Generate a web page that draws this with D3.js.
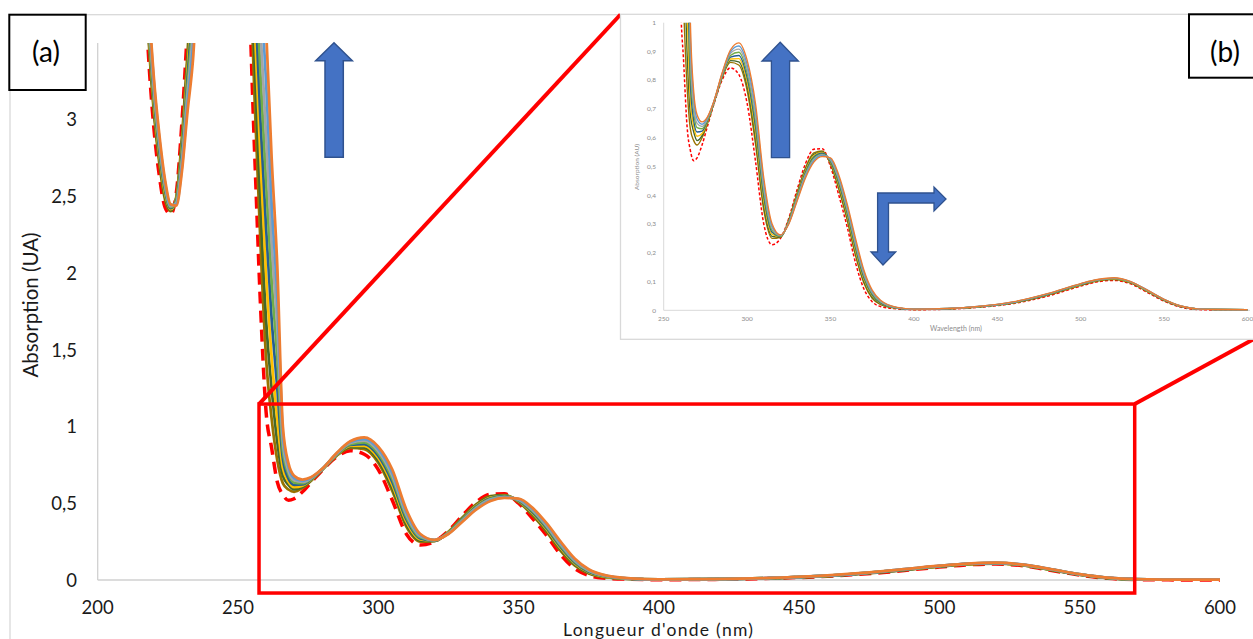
<!DOCTYPE html>
<html><head><meta charset="utf-8">
<script src="https://cdn.jsdelivr.net/npm/d3@7"></script>
<style>body{margin:0;background:#fff;overflow:hidden}svg{display:block}</style>
</head><body>
<svg id="c" width="1253" height="639"></svg>
<script>
// ---------- DATA ----------
const wavelengths = [216,218,220,222,224,226,228,230,232,234,238,245,252,256,258,260,262,264,266,268,
  270,273,276,280,285,290,295,300,305,310,315,320,325,330,335,340,345,350,355,360,
  365,370,375,380,390,400,420,440,460,480,500,510,520,530,540,550,560,570,580,600];

const initialSpectrum = [4.2,3.45,2.95,2.63,2.43,2.385,2.52,2.98,3.6,4.3,4.9,5.2,4.6,2.75,1.8,1.1,0.86,0.64,0.555,0.52,
  0.53,0.575,0.635,0.715,0.8,0.843,0.82,0.72,0.52,0.3,0.228,0.25,0.32,0.42,0.51,0.56,0.562,0.5,0.4,0.29,
  0.165,0.075,0.03,0.013,0.005,0.002,0.004,0.011,0.024,0.049,0.084,0.099,0.104,0.092,0.062,0.032,0.011,0.003,0.001,0];

const spectrum1 = [4.35,3.57,3.05,2.71,2.48,2.405,2.496,2.88,3.435,4.03,4.9,5.2,5.0,3.1,2.2,1.45,1.05,0.78,0.63,0.59,
  0.575,0.6,0.646,0.718,0.808,0.862,0.853,0.765,0.58,0.348,0.25,0.254,0.314,0.408,0.495,0.547,0.554,0.509,0.421,0.314,
  0.19,0.095,0.042,0.02,0.007,0.003,0.005,0.012,0.026,0.052,0.087,0.102,0.107,0.095,0.065,0.034,0.013,0.004,0.003,0.002];
const spectrum2 = [4.4,3.61,3.08,2.74,2.5,2.41,2.488,2.85,3.38,3.94,4.9,5.2,5.0,3.35,2.45,1.7,1.25,0.9,0.68,0.62,
  0.59,0.607,0.649,0.719,0.81,0.868,0.864,0.78,0.6,0.364,0.257,0.255,0.312,0.404,0.49,0.542,0.551,0.512,0.428,0.322,
  0.199,0.101,0.046,0.022,0.007,0.0035,0.005,0.012,0.026,0.053,0.088,0.103,0.108,0.096,0.066,0.035,0.013,0.004,0.003,0.002];
const spectrum3 = [4.45,3.65,3.115,2.765,2.52,2.417,2.48,2.82,3.325,3.85,4.9,5.2,5.0,3.6,2.75,2.0,1.45,1.05,0.73,0.64,
  0.605,0.615,0.652,0.72,0.812,0.874,0.875,0.795,0.62,0.38,0.264,0.256,0.31,0.4,0.485,0.538,0.549,0.515,0.435,0.33,
  0.207,0.108,0.05,0.024,0.0075,0.0035,0.0055,0.013,0.027,0.054,0.089,0.104,0.109,0.097,0.067,0.036,0.014,0.0045,0.003,0.002];
const spectrum4 = [4.5,3.69,3.15,2.79,2.54,2.424,2.472,2.79,3.27,3.76,4.9,5.2,5.0,3.85,3.0,2.3,1.7,1.25,0.79,0.66,
  0.62,0.623,0.656,0.721,0.815,0.88,0.886,0.81,0.64,0.396,0.271,0.257,0.308,0.396,0.48,0.533,0.546,0.518,0.442,0.338,
  0.216,0.114,0.054,0.026,0.008,0.0035,0.0055,0.013,0.028,0.055,0.09,0.105,0.11,0.098,0.068,0.036,0.014,0.0045,0.003,0.002];
const spectrum5 = [4.55,3.73,3.18,2.82,2.555,2.43,2.464,2.755,3.215,3.67,4.9,5.2,5.0,4.1,3.3,2.6,1.95,1.45,0.84,0.69,
  0.635,0.631,0.66,0.722,0.818,0.886,0.897,0.825,0.66,0.412,0.278,0.258,0.306,0.392,0.475,0.529,0.543,0.521,0.449,0.346,
  0.224,0.121,0.058,0.028,0.0085,0.004,0.006,0.013,0.028,0.056,0.091,0.105,0.111,0.098,0.068,0.037,0.014,0.005,0.003,0.002];
const spectrum6 = [4.6,3.77,3.21,2.85,2.575,2.437,2.456,2.72,3.16,3.58,4.9,5.2,5.0,4.3,3.6,2.9,2.2,1.65,0.9,0.71,
  0.65,0.639,0.663,0.723,0.82,0.893,0.908,0.84,0.68,0.428,0.286,0.26,0.304,0.388,0.47,0.524,0.54,0.524,0.456,0.354,
  0.233,0.127,0.062,0.031,0.009,0.004,0.006,0.014,0.029,0.057,0.092,0.106,0.112,0.099,0.069,0.037,0.015,0.005,0.003,0.002];
const spectrum7 = [4.65,3.81,3.25,2.87,2.59,2.443,2.448,2.69,3.1,3.49,4.9,5.2,5.0,4.55,3.9,3.25,2.45,1.85,0.95,0.74,
  0.665,0.647,0.667,0.724,0.822,0.899,0.919,0.855,0.7,0.444,0.293,0.261,0.302,0.384,0.465,0.52,0.538,0.527,0.463,0.362,
  0.241,0.134,0.066,0.033,0.0095,0.004,0.006,0.014,0.029,0.057,0.092,0.106,0.112,0.1,0.07,0.038,0.015,0.005,0.003,0.002];
const spectrum8 = [4.7,3.85,3.28,2.9,2.61,2.45,2.44,2.66,3.05,3.4,4.9,5.2,5.0,4.8,4.2,3.6,2.75,2.05,1.0,0.76,
  0.68,0.655,0.67,0.725,0.825,0.905,0.93,0.87,0.72,0.46,0.3,0.262,0.3,0.38,0.46,0.515,0.535,0.53,0.47,0.37,
  0.25,0.14,0.07,0.035,0.01,0.004,0.006,0.014,0.03,0.058,0.093,0.107,0.113,0.1,0.07,0.038,0.015,0.005,0.003,0.002];

const seriesColors = ['#997300','#43682b','#ffc000','#255e91','#70ad47','#a5a5a5','#5b9bd5','#ed7d31'];
const mainYTicks = [0,0.5,1,1.5,2,2.5,3];
const mainXTicks = [200,250,300,350,400,450,500,550,600];
const insetYTicks = [0,0.1,0.2,0.3,0.4,0.5,0.6,0.7,0.8,0.9,1];
const insetXTicks = [250,300,350,400,450,500,550,600];
const zoomBox = {x0:257.5, x1:569.6, y0:-0.085, y1:1.147};

// ---------- DRAW ----------
const colored = [spectrum1,spectrum2,spectrum3,spectrum4,spectrum5,spectrum6,spectrum7,spectrum8];
const svg = d3.select('#c');
const FONT = 'Lato, "Open Sans", sans-serif';
const fmt = v => String(v).replace('.', ',');

// chart area border
svg.append('rect').attr('x',10).attr('y',14.7).attr('width',1400).attr('height',800)
  .attr('fill','#fff').attr('stroke','#d9d9d9').attr('stroke-width',1.3);

// main scales
const mx = d3.scaleLinear().domain([200,600]).range([97.7,1220]);
const my = d3.scaleLinear().domain([0,3.5]).range([580,43.1]);

// axes lines
svg.append('line').attr('x1',mx(200)).attr('x2',mx(200)).attr('y1',my(3.5)).attr('y2',my(0))
  .attr('stroke','#d0d0d0').attr('stroke-width',1.3);
svg.append('line').attr('x1',mx(200)).attr('x2',mx(600)).attr('y1',my(0)).attr('y2',my(0))
  .attr('stroke','#d0d0d0').attr('stroke-width',1.3);

// tick labels
svg.append('g').selectAll('text').data(mainYTicks).join('text')
  .attr('x',77).attr('y',d=>my(d)).attr('dy','0.36em').attr('text-anchor','end')
  .attr('font-family',FONT).attr('font-size',18.5).attr('fill','#1a1a1a').text(fmt);
svg.append('g').selectAll('text').data(mainXTicks).join('text')
  .attr('x',d=>mx(d)).attr('y',614).attr('text-anchor','middle')
  .attr('font-family',FONT).attr('font-size',18.5).attr('fill','#1a1a1a').text(d=>d);
svg.append('text').attr('transform','translate(38,305) rotate(-90)').attr('text-anchor','middle')
  .attr('font-family',FONT).attr('font-size',20.5).attr('fill','#1a1a1a').text('Absorption (UA)');
svg.append('text').attr('x',658).attr('y',635.5).attr('text-anchor','middle')
  .attr('font-family',FONT).attr('font-size',17.5).attr('textLength',190).attr('lengthAdjust','spacing')
  .attr('fill','#1a1a1a').text("Longueur d'onde (nm)");

// clip
const defs = svg.append('defs');
defs.append('clipPath').attr('id','mainClip').append('rect')
  .attr('x',mx(200)).attr('y',my(3.5)).attr('width',mx(600)-mx(200)+2).attr('height',my(0)-my(3.5)+6);

const mainLine = d3.line().x((d,i)=>mx(wavelengths[i])).y(d=>my(d)).curve(d3.curveMonotoneX);
const mg = svg.append('g').attr('clip-path','url(#mainClip)');
mg.append('path').attr('d',mainLine(initialSpectrum)).attr('fill','none')
  .attr('stroke','#ff0000').attr('stroke-width',3.5).attr('stroke-dasharray','12,7');
colored.forEach((s,k)=>{
  mg.append('path').attr('d',mainLine(s)).attr('fill','none')
    .attr('stroke',seriesColors[k]).attr('stroke-width',2.75).attr('stroke-linejoin','round');
});

// zoom box and connector lines
const bx0 = mx(zoomBox.x0), bx1 = mx(zoomBox.x1), by0 = my(zoomBox.y1), by1 = my(zoomBox.y0);
svg.append('rect').attr('x',bx0).attr('y',by0).attr('width',bx1-bx0).attr('height',by1-by0)
  .attr('fill','none').attr('stroke','#ff0000').attr('stroke-width',3.5);
svg.append('line').attr('x1',bx0).attr('y1',by0).attr('x2',620.5).attr('y2',14.5)
  .attr('stroke','#ff0000').attr('stroke-width',4);
svg.append('line').attr('x1',bx1).attr('y1',by0).attr('x2',1253).attr('y2',339.5)
  .attr('stroke','#ff0000').attr('stroke-width',4);

// main arrow
svg.append('polygon')
  .attr('points',[[325,157.3],[325,60.7],[315.7,60.7],[334,42.7],[352.3,60.7],[343.3,60.7],[343.3,157.3]].join(' '))
  .attr('fill','#4472c4').attr('stroke','#2f528f').attr('stroke-width',1.5);

// ---------- INSET ----------
svg.append('rect').attr('x',620.5).attr('y',14.3).attr('width',700).attr('height',325)
  .attr('fill','#fff').attr('stroke','#d9d9d9').attr('stroke-width',1.3);
const ix = d3.scaleLinear().domain([250,600]).range([663.7,1247.5]);
const iy = d3.scaleLinear().domain([0,1]).range([310.3,22.7]);
svg.append('line').attr('x1',ix(250)).attr('x2',ix(250)).attr('y1',iy(1)).attr('y2',iy(0))
  .attr('stroke','#d9d9d9').attr('stroke-width',1);
svg.append('line').attr('x1',ix(250)).attr('x2',1250).attr('y1',iy(0)).attr('y2',iy(0))
  .attr('stroke','#d9d9d9').attr('stroke-width',1);
svg.append('g').selectAll('text').data(insetYTicks).join('text')
  .attr('x',656).attr('y',d=>iy(d)).attr('dy','0.35em').attr('text-anchor','end')
  .attr('font-family',FONT).attr('font-size',6.5).attr('fill','#8c8c8c').text(fmt);
svg.append('g').selectAll('text').data(insetXTicks).join('text')
  .attr('x',d=>ix(d)).attr('y',320.5).attr('text-anchor','middle')
  .attr('font-family',FONT).attr('font-size',6.5).attr('fill','#8c8c8c').text(d=>d);
svg.append('text').attr('transform','translate(639,167) rotate(-90)').attr('text-anchor','middle')
  .attr('font-family',FONT).attr('font-size',6.5).attr('fill','#8c8c8c').text('Absorption (AU)');
svg.append('text').attr('x',956).attr('y',330.5).attr('text-anchor','middle')
  .attr('font-family',FONT).attr('font-size',7).attr('fill','#8c8c8c').text('Wavelength (nm)');

defs.append('clipPath').attr('id','insetClip').append('rect')
  .attr('x',ix(250)).attr('y',iy(1)).attr('width',1253-ix(250)).attr('height',iy(0)-iy(1)+2);
const insetLine = d3.line().x((d,i)=>ix(wavelengths[i])).y(d=>iy(d)).curve(d3.curveMonotoneX);
const ig = svg.append('g').attr('clip-path','url(#insetClip)');
ig.append('path').attr('d',insetLine(initialSpectrum)).attr('fill','none')
  .attr('stroke','#ff0000').attr('stroke-width',1.5).attr('stroke-dasharray','3,2');
colored.forEach((s,k)=>{
  ig.append('path').attr('d',insetLine(s)).attr('fill','none')
    .attr('stroke',seriesColors[k]).attr('stroke-width',1.4);
});

// inset arrows
svg.append('polygon')
  .attr('points',[[771.4,157.7],[771.4,61],[762,61],[780.2,42.3],[798.4,61],[789.6,61],[789.6,157.7]].join(' '))
  .attr('fill','#4472c4').attr('stroke','#2f528f').attr('stroke-width',1.3);
svg.append('polygon')
  .attr('points',[[877.6,193],[934,193],[934,187],[946,199],[934,211],[934,203],[888.5,203],[888.5,252],
    [895.7,252],[883,265],[871,252],[877.6,252]].join(' '))
  .attr('fill','#4472c4').attr('stroke','#2f528f').attr('stroke-width',1.3);

// label boxes
svg.append('rect').attr('x',9.3).attr('y',14.7).attr('width',76.4).attr('height',75.3)
  .attr('fill','#fff').attr('stroke','#000').attr('stroke-width',2);
svg.append('text').attr('x',46).attr('y',52.5).attr('dy','0.35em').attr('text-anchor','middle')
  .attr('font-family',FONT).attr('font-size',28).attr('fill','#000').text('(a)');
svg.append('rect').attr('x',1189).attr('y',14.3).attr('width',90).attr('height',63.4)
  .attr('fill','#fff').attr('stroke','#000').attr('stroke-width',2);
svg.append('text').attr('x',1225).attr('y',52.5).attr('dy','0.35em').attr('text-anchor','middle')
  .attr('font-family',FONT).attr('font-size',28).attr('fill','#000').text('(b)');
</script>
</body></html>
